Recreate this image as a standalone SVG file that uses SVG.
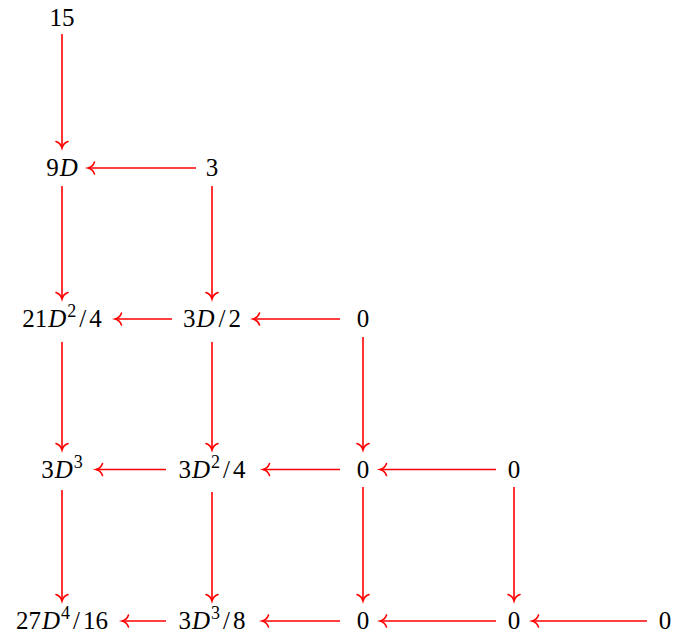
<svg xmlns="http://www.w3.org/2000/svg" width="675" height="637" viewBox="0 0 675 637">
<style>
text{font-family:"Liberation Serif","Times New Roman",serif;font-size:25px;fill:#000;text-anchor:middle}
.i{font-style:italic}
.s{font-size:18px}
.e line{stroke:#ff0000;stroke-width:1.6;fill:none;marker-end:url(#ah)}
</style>
<defs>
<marker id="ah" markerUnits="userSpaceOnUse" orient="auto" markerWidth="20" markerHeight="20" viewBox="-10 -10 20 20" refX="0" refY="0" overflow="visible">
<path d="M-6.5,-6 C-5.5,-3 -3,-0.8 0,0 C-3,0.8 -5.5,3 -6.5,6" fill="none" stroke="#ff0000" stroke-width="1.6" stroke-linecap="round"/>
</marker>
</defs>
<g class="e" id="connectors">
<line x1="62" y1="34" x2="62" y2="148"/>
<line x1="62" y1="186" x2="62" y2="299"/>
<line x1="62" y1="342" x2="62" y2="450"/>
<line x1="62" y1="490" x2="62" y2="601"/>
<line x1="212" y1="186" x2="212" y2="299"/>
<line x1="212" y1="342" x2="212" y2="450"/>
<line x1="212" y1="492" x2="212" y2="601"/>
<line x1="363" y1="337" x2="363" y2="450"/>
<line x1="363" y1="487" x2="363" y2="601"/>
<line x1="514" y1="487" x2="514" y2="601"/>
<line x1="196" y1="168" x2="88" y2="168"/>
<line x1="172" y1="319" x2="115" y2="319"/>
<line x1="340" y1="319" x2="253" y2="319"/>
<line x1="166" y1="469.5" x2="96" y2="469.5"/>
<line x1="340" y1="469.5" x2="263" y2="469.5"/>
<line x1="496" y1="469.5" x2="380" y2="469.5"/>
<line x1="166" y1="621" x2="122" y2="621"/>
<line x1="340" y1="621" x2="262" y2="621"/>
<line x1="496" y1="621" x2="380" y2="621"/>
<line x1="647" y1="621" x2="532" y2="621"/>
</g>
<g id="n00"><text x="62" y="26">15</text></g>
<g id="n10"><text x="62" y="176">9<tspan class="i" dx="1">D</tspan></text></g>
<g id="n11"><text x="212" y="176">3</text></g>
<g id="n20"><text x="62" y="327">21<tspan class="i" dx="1">D</tspan><tspan class="s" dx="1" dy="-10">2</tspan><tspan dx="3" dy="10">/</tspan><tspan dx="3">4</tspan></text></g>
<g id="n21"><text x="212" y="327">3<tspan class="i" dx="1">D</tspan><tspan dx="4">/</tspan><tspan dx="3">2</tspan></text></g>
<g id="n22"><text x="363" y="327">0</text></g>
<g id="n30"><text x="62" y="478">3<tspan class="i" dx="1">D</tspan><tspan class="s" dx="1" dy="-10">3</tspan></text></g>
<g id="n31"><text x="212" y="478">3<tspan class="i" dx="1">D</tspan><tspan class="s" dx="1" dy="-10">2</tspan><tspan dx="3" dy="10">/</tspan><tspan dx="3">4</tspan></text></g>
<g id="n32"><text x="363" y="478">0</text></g>
<g id="n33"><text x="514" y="478">0</text></g>
<g id="n40"><text x="62" y="629">27<tspan class="i" dx="1">D</tspan><tspan class="s" dx="1" dy="-10">4</tspan><tspan dx="3" dy="10">/</tspan><tspan dx="3">16</tspan></text></g>
<g id="n41"><text x="212" y="629">3<tspan class="i" dx="1">D</tspan><tspan class="s" dx="1" dy="-10">3</tspan><tspan dx="3" dy="10">/</tspan><tspan dx="3">8</tspan></text></g>
<g id="n42"><text x="363" y="629">0</text></g>
<g id="n43"><text x="514" y="629">0</text></g>
<g id="n44"><text x="665" y="629">0</text></g>
</svg>
